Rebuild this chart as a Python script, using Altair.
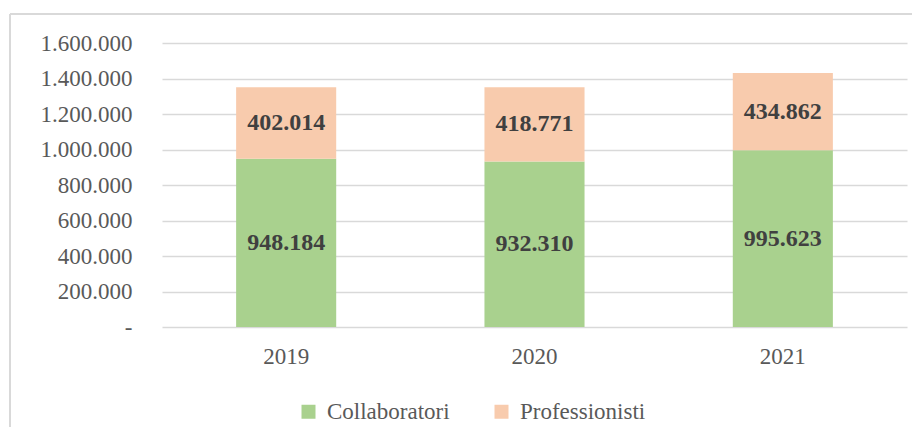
import altair as alt
import pandas as pd

years = ["2019", "2020", "2021"]
collaboratori = [948184, 932310, 995623]
professionisti = [402014, 418771, 434862]
series = ["Collaboratori", "Professionisti"]
colors = ["#A9D18E", "#F8CBAD"]
y_ticks = [0, 200000, 400000, 600000, 800000, 1000000, 1200000, 1400000, 1600000]

rows = []
for i, y in enumerate(years):
    rows.append({"year": y, "series": series[0], "order": 0, "value": collaboratori[i]})
    rows.append({"year": y, "series": series[1], "order": 1, "value": professionisti[i]})
df = pd.DataFrame(rows)

FONT = "Liberation Serif"
W, H = 745, 284

base = alt.Chart(df).transform_stack(
    stack="value", groupby=["year"], as_=["v0", "v1"],
    sort=[alt.SortField("order", "ascending")]
).transform_calculate(
    mid="(datum.v0 + datum.v1) / 2",
    label="replace(format(datum.value, ','), /,/g, '.')",
)

y_axis = alt.Axis(values=y_ticks, labelOverlap=False, labelPadding=30,
                  labelExpr="datum.value == 0 ? '-\u00a0\u00a0\u00a0\u00a0' : replace(format(datum.value, ','), /,/g, '.')")
x_axis = alt.Axis(labelAngle=0, labelPadding=18, grid=False)
x_scale = alt.Scale(paddingInner=0.597, paddingOuter=0.2985)
y_scale = alt.Scale(domain=[0, 1600000], nice=False)

bars = base.mark_bar().encode(
    x=alt.X("year:N", sort=years, title=None, scale=x_scale, axis=x_axis),
    y=alt.Y("v0:Q", title=None, scale=y_scale, axis=y_axis),
    y2="v1:Q",
    color=alt.Color("series:N", sort=series, title=None,
                    scale=alt.Scale(domain=series, range=colors),
                    legend=alt.Legend(orient="none", direction="horizontal",
                                      legendX=135, legendY=357,
                                      symbolType="square", symbolSize=196,
                                      symbolStrokeWidth=0, labelOffset=7,
                                      columnPadding=40)),
)

labels = base.mark_text(font=FONT, fontSize=24, fontWeight="bold",
                        color="#404040").encode(
    x=alt.X("year:N", sort=years, title=None, scale=x_scale, axis=x_axis),
    y=alt.Y("mid:Q", title=None, scale=y_scale, axis=y_axis),
    text="label:N",
)

dummy = pd.DataFrame({"a": [0]})
top_line = alt.Chart(dummy).mark_rule(color="#D9D9D9", strokeWidth=2, clip=False).encode(
    x=alt.value(-152), x2=alt.value(750), y=alt.value(-29),
)
left_line = alt.Chart(dummy).mark_rule(color="#D9D9D9", strokeWidth=2, clip=False).encode(
    x=alt.value(-152), y=alt.value(-29), y2=alt.value(420),
)

chart = alt.layer(top_line, left_line, bars, labels).properties(
    width=W, height=H,
    autosize=alt.AutoSizeParams(type="none"),
    padding={"left": 154, "top": 35, "right": 5, "bottom": 100},
).configure(background="white", font=FONT).configure_view(
    stroke=None
).configure_axis(
    labelFont=FONT, labelFontSize=23, labelColor="#595959",
    ticks=False, domain=False, labelOverlap=False,
    gridColor="#D9D9D9", gridWidth=1.5,
).configure_legend(
    labelFont=FONT, labelFontSize=23, labelColor="#595959"
)

chart.save("out.html", embed_options={"renderer": "svg", "actions": False})
